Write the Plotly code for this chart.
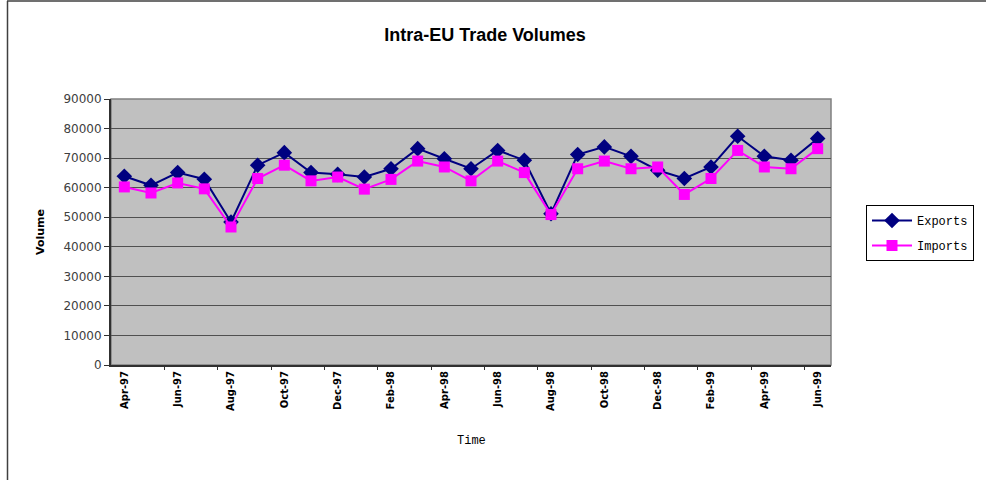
import plotly.graph_objects as go

months = ["Apr-97", "May-97", "Jun-97", "Jul-97", "Aug-97", "Sep-97", "Oct-97", "Nov-97", "Dec-97",
          "Jan-98", "Feb-98", "Mar-98", "Apr-98", "May-98", "Jun-98", "Jul-98", "Aug-98", "Sep-98",
          "Oct-98", "Nov-98", "Dec-98", "Jan-99", "Feb-99", "Mar-99", "Apr-99", "May-99", "Jun-99"]
exports = [63850, 60800, 65100, 62850, 48400, 67600, 71850, 65100, 64500,
           63600, 66400, 73200, 69800, 66400, 72600, 69300, 51200, 71200,
           73800, 70600, 65900, 63100, 67000, 77400, 70600, 69300, 76600]
imports = [60250, 58200, 61600, 59600, 46700, 63100, 67600, 62300, 63600,
           59500, 62800, 69000, 67000, 62300, 69000, 65100, 50900, 66400,
           69000, 66400, 67000, 57700, 63100, 72600, 67000, 66400, 73200]
tick_labels = months[::2]
y_ticks = list(range(0, 90001, 10000))
y_tick_text = [str(v) for v in y_ticks]

W, H = 986, 480
L, R, T, B = 111, 986 - 831, 99, 480 - 365
pw, ph = W - L - R, H - T - B

def px_x(x):
    return (x - L) / pw

def px_y(y):
    return (H - B - y) / ph

fig = go.Figure()
fig.add_trace(go.Scatter(x=months, y=exports, name="Exports", mode="lines+markers",
                         line=dict(color="#000080", width=2),
                         marker=dict(symbol="diamond", size=12, color="#000080"),
                         legendgroup="a"))
fig.add_trace(go.Scatter(x=months, y=imports, name="Imports", mode="lines+markers",
                         line=dict(color="#FF00FF", width=2),
                         marker=dict(symbol="square", size=11, color="#FF00FF"),
                         legendgroup="b"))

fig.update_layout(
    width=W, height=H,
    margin=dict(l=L, r=R, t=T, b=B),
    paper_bgcolor="white", plot_bgcolor="#C0C0C0",
    title=dict(text="<b>Intra-EU Trade Volumes</b>", x=485 / W, xanchor="center",
               y=1 - 35 / H, yanchor="middle",
               font=dict(family="Liberation Sans", size=18, color="black")),
    showlegend=True,
    legend=dict(x=px_x(866), xanchor="left", y=px_y(205), yanchor="top",
                bordercolor="black", borderwidth=1, bgcolor="white",
                font=dict(family="Liberation Mono", size=12, color="black"),
                tracegroupgap=6, itemwidth=40),
    xaxis=dict(type="category", categoryorder="array", categoryarray=months,
               range=[-0.5, len(months) - 0.5],
               tickmode="array", tickvals=tick_labels, ticktext=tick_labels,
               tickangle=-90, ticks="", showgrid=False,
               tickfont=dict(family="DejaVu Sans", size=10, color="black", weight="bold"),
               showline=True, linecolor="#303030", linewidth=2, zeroline=False),
    xaxis2=dict(overlaying="x", range=[-0.5, len(months) - 0.5], tickmode="array",
                tickvals=[i + 0.5 for i in range(1, len(months) - 1, 2)],
                showticklabels=False, ticks="outside", ticklen=4, tickcolor="#303030",
                showgrid=False, zeroline=False, anchor="y", side="bottom"),
    yaxis=dict(range=[0, 90000], tickmode="array", tickvals=y_ticks, ticktext=y_tick_text,
               ticks="outside", ticklen=5, tickcolor="#303030",
               showgrid=True, gridcolor="#505050", gridwidth=1,
               tickfont=dict(family="DejaVu Sans", size=12, color="#404040"),
               showline=True, linecolor="#303030", linewidth=2, zeroline=False),
    annotations=[
        dict(text="<b>Volume</b>", xref="paper", yref="paper", x=px_x(40), y=0.5,
             xanchor="center", yanchor="middle", textangle=-90, showarrow=False,
             font=dict(family="DejaVu Sans", size=11, color="black")),
        dict(text="Time", xref="paper", yref="paper", x=px_x(471), y=px_y(441),
             xanchor="center", yanchor="middle", showarrow=False,
             font=dict(family="Liberation Mono", size=12, color="black")),
    ],
    shapes=[
        dict(type="rect", xref="paper", yref="paper", x0=0, x1=1, y0=0, y1=1,
             line=dict(color="#808080", width=1.5), layer="below"),
        dict(type="line", xref="paper", yref="paper", x0=px_x(7.5), x1=px_x(7.5),
             y0=px_y(1), y1=px_y(500), line=dict(color="#404040", width=1.5)),
        dict(type="line", xref="paper", yref="paper", x0=px_x(7), x1=px_x(1000),
             y0=px_y(1), y1=px_y(1), line=dict(color="#404040", width=1.5)),
    ],
)
# dummy trace to activate the boundary tick axis
fig.add_trace(go.Scatter(x=[0], y=[None], xaxis="x2", showlegend=False, hoverinfo="skip"))

fig.write_html("out.html", config={"displayModeBar": False},
               post_script="document.body.style.margin='0';document.body.style.padding='0';")
